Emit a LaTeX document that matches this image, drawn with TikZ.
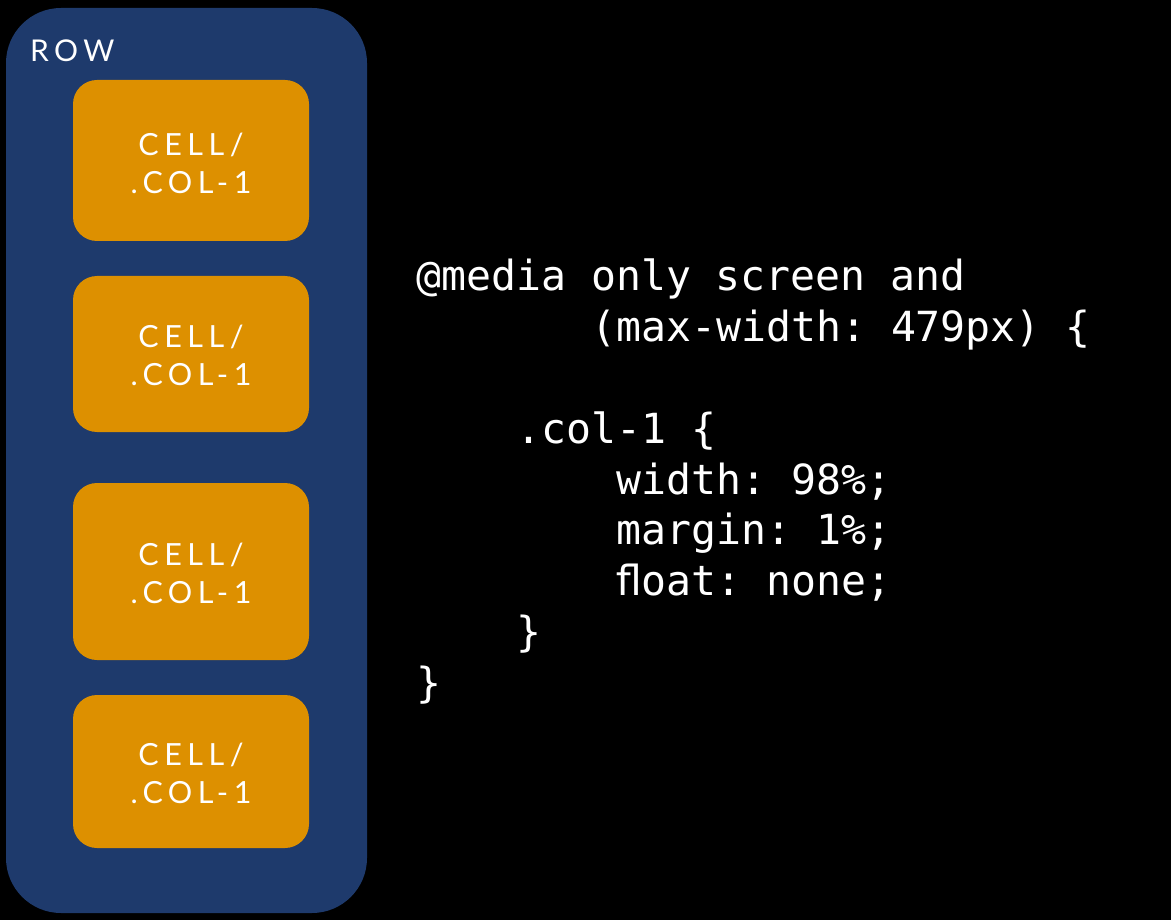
\documentclass[tikz,border=0pt]{standalone}
\usepackage{fontspec}
\setmainfont{Lato}[LetterSpace=18]
\setmonofont{DejaVu Sans Mono}
\definecolor{rowblue}{HTML}{1E3A6C}
\definecolor{cellorange}{HTML}{DD9000}
\begin{document}
\begin{tikzpicture}[x=1pt,y=-1pt,
  rowbox/.style={fill=rowblue,rounded corners=55pt},
  cellbox/.style={fill=cellorange,rounded corners=24pt},
  celltext/.style={text=white,align=center,inner sep=0pt,font=\fontsize{30.5}{38}\selectfont},
  rowlabel/.style={text=white,inner sep=0pt,anchor=base west,font=\fontsize{30}{36}\selectfont},
  codeline/.style={text=white,inner sep=0pt,anchor=base west,font=\ttfamily\fontsize{41.5}{50.75}\selectfont}]
\useasboundingbox (0,0) rectangle (1171,920);
\fill[black] (0,0) rectangle (1171,920);
\fill[rowbox] (6,8) rectangle (367,913);
\node[rowlabel] (row) at (30,62) {ROW};
\fill[cellbox] (73,80) rectangle (309,241);
\fill[cellbox] (73,276) rectangle (309,432);
\fill[cellbox] (73,483) rectangle (309,660);
\fill[cellbox] (73,695) rectangle (309,848);
\node[celltext] (c1) at (191,163) {CELL/\\.COL-1};
\node[celltext] (c2) at (191,355) {CELL/\\.COL-1};
\node[celltext] (c3) at (191,573) {CELL/\\.COL-1};
\node[celltext] (c4) at (191,773) {CELL/\\.COL-1};
\node[codeline] (l1) at (416,291) {@media only screen and};
\node[codeline] (l2) at (591,341.75) {(max-width: 479px) \{};
\node[codeline] (l4) at (516,443.25) {.col-1 \{};
\node[codeline] (l5) at (616,494) {width: 98\%;};
\node[codeline] (l6) at (616,544.75) {margin: 1\%;};
\node[codeline] (l7) at (616,595.5) {\char"FB02 oat: none;};
\node[codeline] (l8) at (516,646.25) {\}};
\node[codeline] (l9) at (416,697) {\}};
\end{tikzpicture}
\end{document}
